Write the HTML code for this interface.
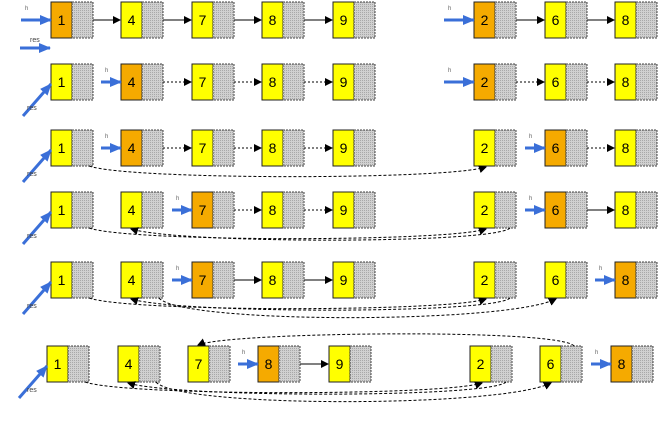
<!DOCTYPE html>
<html><head><style>body{margin:0;background:#fff}svg{display:block}text{font-family:"Liberation Sans",sans-serif}</style></head><body>
<svg width="661" height="426" viewBox="0 0 661 426" xmlns="http://www.w3.org/2000/svg">
<defs>
<pattern id="dots" width="2" height="2" patternUnits="userSpaceOnUse"><rect width="2" height="2" fill="#d0d0d0"/><rect width="1" height="1" fill="#a8a8a8"/></pattern>
<marker id="ak" markerWidth="8" markerHeight="8" refX="7" refY="4" orient="auto" markerUnits="userSpaceOnUse"><path d="M0,0 L8,4 L0,8 z" fill="#000"/></marker>
<marker id="ab" markerWidth="12" markerHeight="10" refX="11" refY="5" orient="auto" markerUnits="userSpaceOnUse"><path d="M0,0 L12,5 L0,10 z" fill="#3a6fd8"/></marker>
</defs>
<g stroke="#000" stroke-width="1" font-size="14" text-anchor="middle">
<g id="nodes"></g>
</g>
<g id="extra" fill="none"></g>
</svg>
<script>
const S='http://www.w3.org/2000/svg';
const nodesG=document.getElementById('nodes'),ex=document.getElementById('extra');
function el(p,t,a,txt){const e=document.createElementNS(S,t);for(const k in a)e.setAttribute(k,a[k]);if(txt)e.textContent=txt;p.appendChild(e);return e;}
const tops=[2,64,130,192,262,346];
const xs=[51,121,192,262,333,474,545,615];
const xs6=[47,118,188,258,329,470,540,611];
const vals=['1','4','7','8','9','2','6','8'];
const orange=[[0,5],[1,5],[1,6],[2,6],[2,7],[3,7]];
function blue(x1,y1,x2,y2){el(ex,'line',{x1:x1,y1:y1,x2:x2,y2:y2,stroke:'#3a6fd8','stroke-width':3,'marker-end':'url(#ab)'});}
tops.forEach((t,r)=>{
 const X=r==5?xs6:xs;
 X.forEach((x,i)=>{
  const o=orange[r].includes(i);
  el(nodesG,'rect',{x:x,y:t,width:21,height:36,fill:o?'#f5aa00':'#ffff00',stroke:'#222'});
  el(nodesG,'rect',{x:x+21,y:t,width:21,height:36,fill:'url(#dots)',stroke:'#444','stroke-dasharray':'2,1'});
  el(nodesG,'text',{x:x+10.5,y:t+23,stroke:'none',fill:'#000'},vals[i]);
 });
 const cy=t+18;
 orange[r].forEach(i=>{
  if(r>0&&i==0)return;
  const len=(i==0||i==5)&&r<2?30:20;
  blue(X[i]-len,cy,X[i],cy);
  el(ex,'text',{x:X[i]-len+4,y:cy-10,'font-size':6,fill:'#666'},'h');
 });
 const links=[[0,1],[1,2],[2,3],[3,4],[5,6],[6,7]];
 links.forEach(([a,b])=>{
  if(orange[r].includes(b))return;
  if(r>0&&a==0)return;
  if(r==5&&a==1)return;
  if(r>=4&&a==5)return;
  const solid=r==0||(r==3&&a==6)||(r>=4&&a>=2&&a<=3);
  el(ex,'line',{x1:X[a]+42,y1:cy,x2:X[b]-1,y2:cy,stroke:'#000','stroke-dasharray':solid?'':'2,2','marker-end':'url(#ak)'});
 });
 if(r==0){
  blue(20,48,50,48);
  el(ex,'text',{x:30,y:42,'font-size':7,fill:'#444'},'res');
 } else {
  blue(X[0]-28,t+52,X[0],t+20);
  el(ex,'text',{x:27,y:t+46,'font-size':7,fill:'#444'},'res');
 }
 const b=t+36;
 const curve=(x1,x2,dip)=>el(ex,'path',{d:`M${x1},${b} C${x1+40},${b+dip} ${x2-40},${b+dip} ${x2},${b+1}`,stroke:'#000','stroke-dasharray':'3,2','marker-end':'url(#ak)'});
 if(r>=2)curve(X[0]+38,X[5]+12,14);
 if(r>=3){el(ex,'path',{d:`M${X[5]+36},${b} C${X[5]+20},${b+16} ${X[1]+60},${b+16} ${X[1]+10},${b+1}`,stroke:'#000','stroke-dasharray':'3,2','marker-end':'url(#ak)'});}
 if(r>=4){el(ex,'path',{d:`M${X[1]+38},${b} C${X[1]+60},${b+26} ${X[6]-40},${b+26} ${X[6]+11},${b+1}`,stroke:'#000','stroke-dasharray':'3,2','marker-end':'url(#ak)'});}
 if(r==5){el(ex,'path',{d:`M${X[6]+34},${t} C${X[6]+20},${t-18} ${X[2]+40},${t-14} ${X[2]+10},${t-1}`,stroke:'#000','stroke-dasharray':'3,2','marker-end':'url(#ak)'});}
});
</script>
</body></html>
